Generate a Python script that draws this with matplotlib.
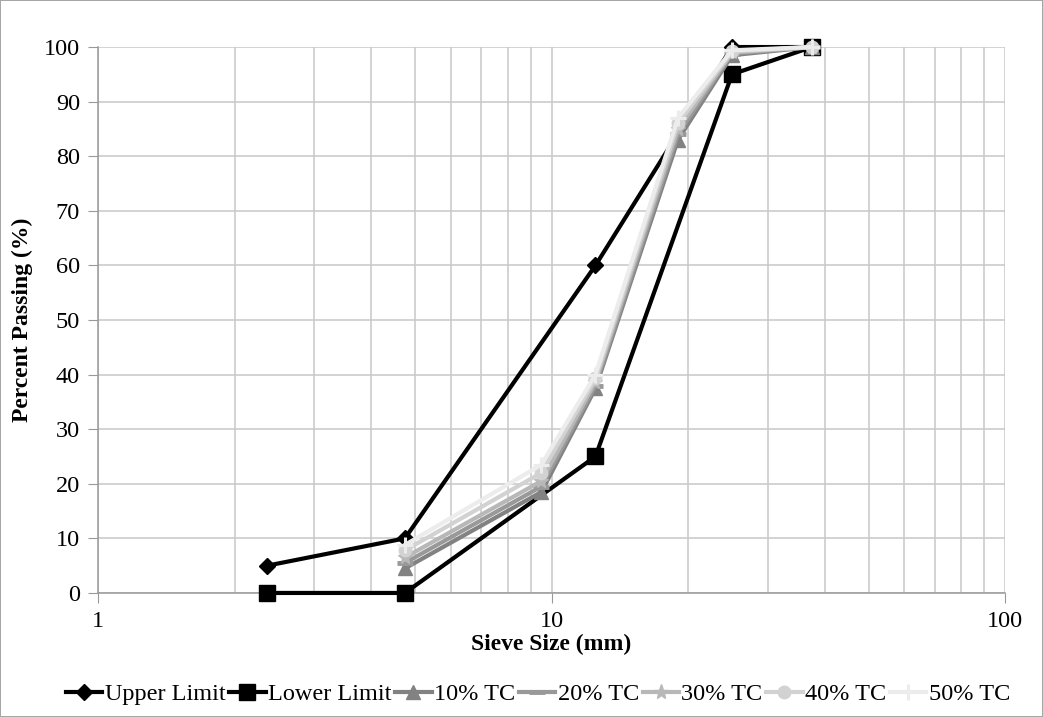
import matplotlib.pyplot as plt
from matplotlib.ticker import FixedLocator, NullFormatter

# sieve sizes (mm)
sizes = [2.36, 4.75, 9.5, 12.5, 19, 25, 37.5]

upper_x = [2.36, 4.75, 12.5, 25, 37.5]
upper = [5, 10, 60, 100, 100]
lower_x = [2.36, 4.75, 12.5, 25, 37.5]
lower = [0, 0, 25, 95, 100]

tc_x = [4.75, 9.5, 12.5, 19, 25, 37.5]
tc10 = [4.5, 18.5, 37.5, 83, 98.5, 100]
tc20 = [5.5, 19.5, 38.0, 84, 98.8, 100]
tc30 = [6.5, 20.5, 38.7, 85, 99.0, 100]
tc40 = [7.8, 22.0, 39.3, 86, 99.2, 100]
tc50 = [8.8, 23.5, 40.0, 87, 99.4, 100]

plt.rcParams['font.family'] = ['Liberation Serif', 'DejaVu Serif']

fig = plt.figure(figsize=(10.43, 7.17), dpi=100, edgecolor='#a6a6a6', linewidth=1.2)
ax = fig.add_axes([0.094, 0.173, 0.8696, 0.7614])

lw = 3.0
ax.plot(upper_x, upper, color='black', lw=lw, marker='D', ms=8, label='Upper Limit', zorder=3, clip_on=False)
ax.plot(lower_x, lower, color='black', lw=lw, marker='s', ms=12, label='Lower Limit', zorder=3, clip_on=False)
ax.plot(tc_x, tc10, color='#828282', lw=lw, marker='^', ms=10, label='10% TC', zorder=4, clip_on=False)
ax.plot(tc_x, tc20, color='#999999', lw=lw, marker='_', ms=12, mew=3.5, label='20% TC', zorder=4, clip_on=False)
ax.plot(tc_x, tc30, color='#b8b8b8', lw=lw, marker='*', ms=11, label='30% TC', zorder=4, clip_on=False)
ax.plot(tc_x, tc40, color='#d2d2d2', lw=lw, marker='o', ms=9, label='40% TC', zorder=4, clip_on=False)
ax.plot(tc_x, tc50, color='#ececec', lw=lw, marker='+', ms=11, mew=2.2, label='50% TC', zorder=4, clip_on=False)

ax.set_xscale('log')
ax.set_xlim(1, 100)
ax.set_ylim(0, 100)
ax.set_yticks(range(0, 101, 10))
ax.xaxis.set_major_locator(FixedLocator([1, 10, 100]))
ax.set_xticklabels(['1', '10', '100'])
ax.xaxis.set_minor_locator(FixedLocator([2, 3, 4, 5, 6, 7, 8, 9, 20, 30, 40, 50, 60, 70, 80, 90]))
ax.xaxis.set_minor_formatter(NullFormatter())

ax.grid(True, which='both', color='#c8c8c8', lw=1.1)
ax.set_axisbelow(True)
for s in ['top', 'right']:
    ax.spines[s].set_visible(False)
for s in ['left', 'bottom']:
    ax.spines[s].set_color('#999999')
    ax.spines[s].set_linewidth(1.1)
ax.tick_params(which='major', length=7, color='#999999', labelsize=17.5, pad=6)
ax.tick_params(which='minor', length=0)

ax.set_xlabel('Sieve Size (mm)', fontsize=17, fontweight='bold', labelpad=1)
ax.set_ylabel('Percent Passing (%)', fontsize=17, fontweight='bold', labelpad=8)

ax.legend(loc='upper center', bbox_to_anchor=(0.485, -0.125), ncol=7, frameon=False,
          fontsize=17.5, handlelength=1.5, handletextpad=0.1, columnspacing=0.15)

fig.savefig('out.png', dpi=100)
